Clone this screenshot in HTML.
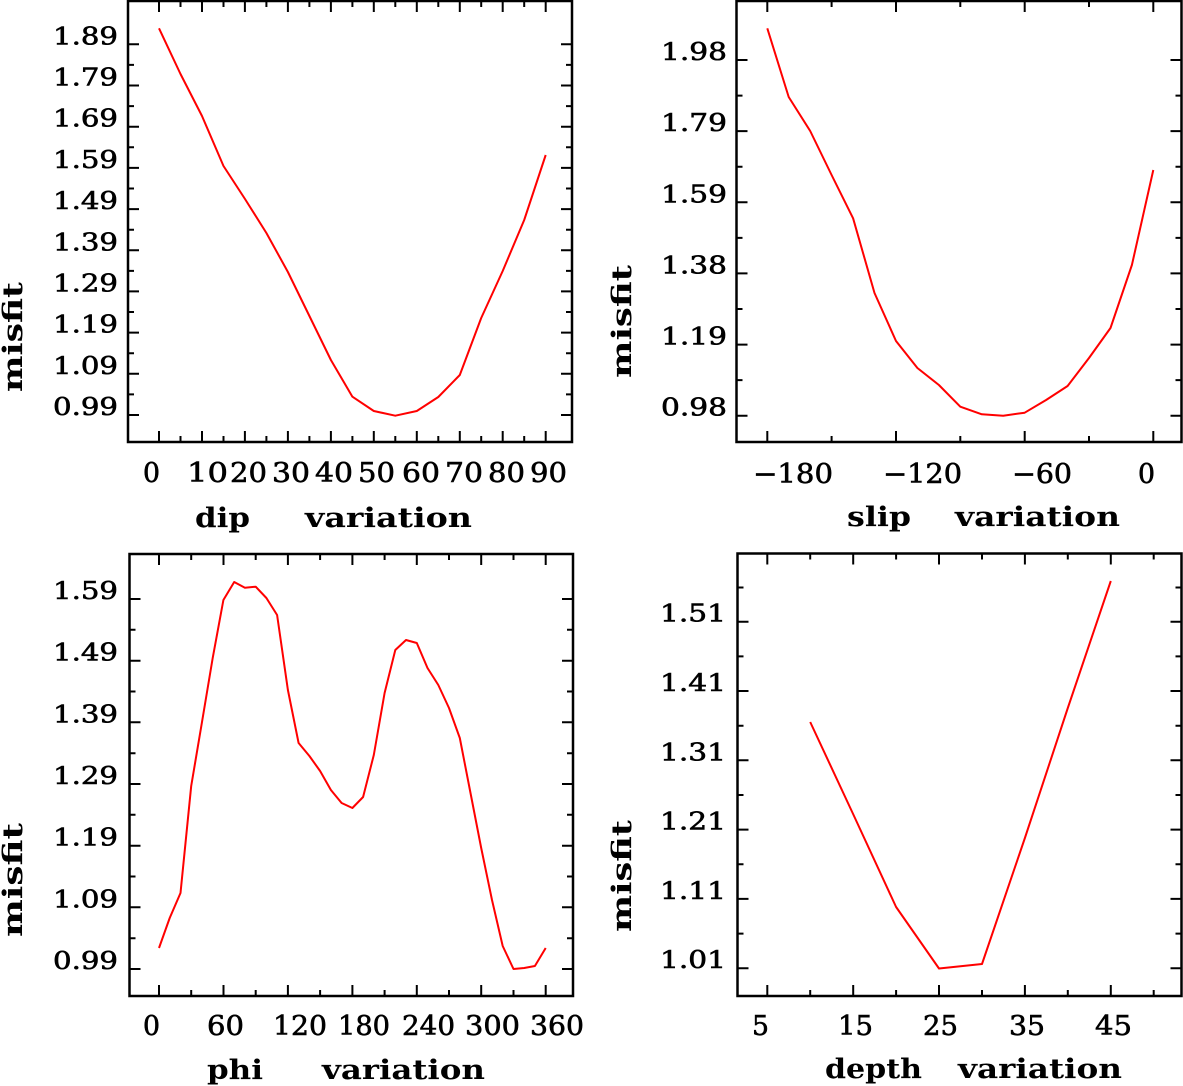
<!DOCTYPE html>
<html><head><meta charset="utf-8"><style>
html,body{margin:0;padding:0;background:#fff;}
svg{display:block;}
.t{font-family:"DejaVu Serif","Liberation Serif",serif;font-size:24px;fill:#000;stroke:#000;stroke-width:0.6px;}
.x{font-family:"DejaVu Serif","Liberation Serif",serif;font-size:27px;fill:#000;stroke:#000;stroke-width:0.6px;}
.b{font-family:"DejaVu Serif","Liberation Serif",serif;font-size:27px;font-weight:bold;fill:#000;}
</style></head><body>
<svg width="1183" height="1086" viewBox="0 0 1183 1086" xmlns="http://www.w3.org/2000/svg">
<rect x="0" y="0" width="1183" height="1086" fill="#fff"/>
<g fill="none" stroke="#000" stroke-width="2.5">
<rect x="128" y="1" width="444" height="441"/>
<rect x="736.5" y="1" width="445" height="441"/>
<rect x="129.5" y="554" width="443.5" height="442"/>
<rect x="737.5" y="553.5" width="444" height="442.5"/>
</g>
<g fill="none" stroke="#000" stroke-width="2">
<path d="M128 44.3h11M128 85.5h11M128 126.7h11M128 167.9h11M128 209.1h11M128 250.3h11M128 291.4h11M128 332.6h11M128 373.8h11M128 415h11
M128 64.9h6M128 106.1h6M128 147.3h6M128 188.5h6M128 229.7h6M128 270.9h6M128 312h6M128 353.2h6M128 394.4h6
M572 44.3h-11M572 85.5h-11M572 126.7h-11M572 167.9h-11M572 209.1h-11M572 250.3h-11M572 291.4h-11M572 332.6h-11M572 373.8h-11M572 415h-11
M572 64.9h-6M572 106.1h-6M572 147.3h-6M572 188.5h-6M572 229.7h-6M572 270.9h-6M572 312h-6M572 353.2h-6M572 394.4h-6
M159 442v-11M202 442v-11M244.9 442v-11M287.9 442v-11M330.9 442v-11M373.8 442v-11M416.8 442v-11M459.8 442v-11M502.7 442v-11M545.7 442v-11
M180.5 442v-6M223.5 442v-6M266.4 442v-6M309.4 442v-6M352.4 442v-6M395.3 442v-6M438.3 442v-6M481.2 442v-6M524.2 442v-6
M159 1v11M202 1v11M244.9 1v11M287.9 1v11M330.9 1v11M373.8 1v11M416.8 1v11M459.8 1v11M502.7 1v11M545.7 1v11
M180.5 1v6M223.5 1v6M266.4 1v6M309.4 1v6M352.4 1v6M395.3 1v6M438.3 1v6M481.2 1v6M524.2 1v6"/>
<path d="M736.5 60h11M736.5 131.1h11M736.5 202.3h11M736.5 273.4h11M736.5 344.6h11M736.5 415.7h11
M736.5 95.6h6M736.5 166.7h6M736.5 237.9h6M736.5 309h6M736.5 380.1h6
M1181.5 60h-11M1181.5 131.1h-11M1181.5 202.3h-11M1181.5 273.4h-11M1181.5 344.6h-11M1181.5 415.7h-11
M1181.5 95.6h-6M1181.5 166.7h-6M1181.5 237.9h-6M1181.5 309h-6M1181.5 380.1h-6
M767.3 442v-11M896 442v-11M1024.7 442v-11M1153.3 442v-11
M831.6 442v-6M960.3 442v-6M1089 442v-6
M767.3 1v11M896 1v11M1024.7 1v11M1153.3 1v11
M831.6 1v6M960.3 1v6M1089 1v6"/>
<path d="M129.5 599h11M129.5 660.7h11M129.5 722.3h11M129.5 784h11M129.5 845.7h11M129.5 907.3h11M129.5 969h11
M129.5 629.8h6M129.5 691.5h6M129.5 753.2h6M129.5 814.8h6M129.5 876.5h6M129.5 938.2h6
M573 599h-11M573 660.7h-11M573 722.3h-11M573 784h-11M573 845.7h-11M573 907.3h-11M573 969h-11
M573 629.8h-6M573 691.5h-6M573 753.2h-6M573 814.8h-6M573 876.5h-6M573 938.2h-6
M159 996v-11M223.5 996v-11M287.9 996v-11M352.4 996v-11M416.8 996v-11M481.2 996v-11M545.7 996v-11
M191.2 996v-6M255.7 996v-6M320.1 996v-6M384.6 996v-6M449 996v-6M513.5 996v-6
M159 554v11M223.5 554v11M287.9 554v11M352.4 554v11M416.8 554v11M481.2 554v11M545.7 554v11
M191.2 554v6M255.7 554v6M320.1 554v6M384.6 554v6M449 554v6M513.5 554v6"/>
<path d="M737.5 621.7h11M737.5 691h11M737.5 760.3h11M737.5 829.6h11M737.5 898.9h11M737.5 968.2h11
M737.5 587.5h6M737.5 656.4h6M737.5 725.7h6M737.5 795h6M737.5 864.3h6M737.5 933.6h6
M1181.5 621.7h-11M1181.5 691h-11M1181.5 760.3h-11M1181.5 829.6h-11M1181.5 898.9h-11M1181.5 968.2h-11
M1181.5 587.5h-6M1181.5 656.4h-6M1181.5 725.7h-6M1181.5 795h-6M1181.5 864.3h-6M1181.5 933.6h-6
M767.3 996v-11M853.2 996v-11M939 996v-11M1024.9 996v-11M1110.8 996v-11
M810.2 996v-6M896.1 996v-6M982 996v-6M1067.8 996v-6M1153.7 996v-6
M767.3 553.5v11M853.2 553.5v11M939 553.5v11M1024.9 553.5v11M1110.8 553.5v11
M810.2 553.5v6M896.1 553.5v6M982 553.5v6M1067.8 553.5v6M1153.7 553.5v6"/>
</g>
<g fill="none" stroke="#ff0000" stroke-width="2" stroke-linejoin="round">
<polyline points="159,28.3 180.5,74 202,116 223.5,166 245,199 266.4,233 287.9,272 309.4,316 330.9,360 352.4,396.7 373.8,411 395.3,415.7 416.8,411 438.3,397 459.8,375 481.2,318 502.7,271 524.2,220 545.7,155"/>
<polyline points="767.3,28.3 788.7,97 810.2,131 831.6,175 853.1,218.3 874.5,293 896,341 917.4,368 938.9,385 960.3,406.7 981.8,414.3 1003.2,415.7 1024.7,412.7 1046.1,400 1067.6,386 1089,358 1110.5,328 1131.9,265 1153.3,170"/>
<polyline points="159,948 169.7,918 180.5,893 191.2,786 202,722 212.7,658 223.4,600 234.2,582 244.9,587.7 255.7,586.7 266.4,598 277.1,615 287.9,690 298.6,743 309.4,756 320.1,771 330.9,790 341.6,803 352.4,808 363.1,797 373.8,755 384.6,693 395.3,650 406,640 416.8,643 427.5,668 438.3,685 449,708 459.8,738 470.5,793 481.2,848 492,900 502.7,946 513.5,969 524.2,968 534.9,966 545.7,948"/>
<polyline points="810.2,722 853.1,814 896.1,907 939,968.5 982,964 1024.9,838 1067.8,708 1110.8,581"/>
</g>
<g class="t">
<text x="53" y="44.3" textLength="65" lengthAdjust="spacingAndGlyphs">1.89</text>
<text x="53" y="85.5" textLength="65" lengthAdjust="spacingAndGlyphs">1.79</text>
<text x="53" y="126.7" textLength="65" lengthAdjust="spacingAndGlyphs">1.69</text>
<text x="53" y="167.9" textLength="65" lengthAdjust="spacingAndGlyphs">1.59</text>
<text x="53" y="209.1" textLength="65" lengthAdjust="spacingAndGlyphs">1.49</text>
<text x="53" y="250.3" textLength="65" lengthAdjust="spacingAndGlyphs">1.39</text>
<text x="53" y="291.4" textLength="65" lengthAdjust="spacingAndGlyphs">1.29</text>
<text x="53" y="332.6" textLength="65" lengthAdjust="spacingAndGlyphs">1.19</text>
<text x="53" y="373.8" textLength="65" lengthAdjust="spacingAndGlyphs">1.09</text>
<text x="53" y="415" textLength="65" lengthAdjust="spacingAndGlyphs">0.99</text>
<text x="661" y="60" textLength="66" lengthAdjust="spacingAndGlyphs">1.98</text>
<text x="661" y="131.1" textLength="66" lengthAdjust="spacingAndGlyphs">1.79</text>
<text x="661" y="202.3" textLength="66" lengthAdjust="spacingAndGlyphs">1.59</text>
<text x="661" y="273.4" textLength="66" lengthAdjust="spacingAndGlyphs">1.38</text>
<text x="661" y="344.6" textLength="66" lengthAdjust="spacingAndGlyphs">1.19</text>
<text x="661" y="415.7" textLength="66" lengthAdjust="spacingAndGlyphs">0.98</text>
<text x="53" y="599" textLength="65" lengthAdjust="spacingAndGlyphs">1.59</text>
<text x="53" y="660.7" textLength="65" lengthAdjust="spacingAndGlyphs">1.49</text>
<text x="53" y="722.3" textLength="65" lengthAdjust="spacingAndGlyphs">1.39</text>
<text x="53" y="784" textLength="65" lengthAdjust="spacingAndGlyphs">1.29</text>
<text x="53" y="845.7" textLength="65" lengthAdjust="spacingAndGlyphs">1.19</text>
<text x="53" y="907.3" textLength="65" lengthAdjust="spacingAndGlyphs">1.09</text>
<text x="53" y="969" textLength="65" lengthAdjust="spacingAndGlyphs">0.99</text>
<text x="660" y="621.7" textLength="66" lengthAdjust="spacingAndGlyphs">1.51</text>
<text x="660" y="691" textLength="66" lengthAdjust="spacingAndGlyphs">1.41</text>
<text x="660" y="760.3" textLength="66" lengthAdjust="spacingAndGlyphs">1.31</text>
<text x="660" y="829.6" textLength="66" lengthAdjust="spacingAndGlyphs">1.21</text>
<text x="660" y="898.9" textLength="66" lengthAdjust="spacingAndGlyphs">1.11</text>
<text x="660" y="968.2" textLength="66" lengthAdjust="spacingAndGlyphs">1.01</text>
</g>
<g class="x">
<text x="143" y="482" textLength="17" lengthAdjust="spacingAndGlyphs">0</text>
<text x="187" y="482" textLength="41" lengthAdjust="spacingAndGlyphs">10</text>
<text x="230" y="482" textLength="37" lengthAdjust="spacingAndGlyphs">20</text>
<text x="272" y="482" textLength="38" lengthAdjust="spacingAndGlyphs">30</text>
<text x="315" y="482" textLength="38" lengthAdjust="spacingAndGlyphs">40</text>
<text x="358" y="482" textLength="37" lengthAdjust="spacingAndGlyphs">50</text>
<text x="402" y="482" textLength="38" lengthAdjust="spacingAndGlyphs">60</text>
<text x="445" y="482" textLength="38" lengthAdjust="spacingAndGlyphs">70</text>
<text x="488" y="482" textLength="37" lengthAdjust="spacingAndGlyphs">80</text>
<text x="530" y="482" textLength="37" lengthAdjust="spacingAndGlyphs">90</text>
<text x="753" y="483" textLength="80" lengthAdjust="spacingAndGlyphs">−180</text>
<text x="883" y="483" textLength="79" lengthAdjust="spacingAndGlyphs">−120</text>
<text x="1012" y="483" textLength="60" lengthAdjust="spacingAndGlyphs">−60</text>
<text x="1138" y="483" textLength="17" lengthAdjust="spacingAndGlyphs">0</text>
<text x="143" y="1035" textLength="17" lengthAdjust="spacingAndGlyphs">0</text>
<text x="207" y="1035" textLength="37" lengthAdjust="spacingAndGlyphs">60</text>
<text x="273" y="1035" textLength="54" lengthAdjust="spacingAndGlyphs">120</text>
<text x="338" y="1035" textLength="52" lengthAdjust="spacingAndGlyphs">180</text>
<text x="402" y="1035" textLength="53" lengthAdjust="spacingAndGlyphs">240</text>
<text x="465" y="1035" textLength="55" lengthAdjust="spacingAndGlyphs">300</text>
<text x="530" y="1035" textLength="54" lengthAdjust="spacingAndGlyphs">360</text>
<text x="752" y="1035" textLength="17" lengthAdjust="spacingAndGlyphs">5</text>
<text x="838" y="1035" textLength="35" lengthAdjust="spacingAndGlyphs">15</text>
<text x="923" y="1035" textLength="35" lengthAdjust="spacingAndGlyphs">25</text>
<text x="1009" y="1035" textLength="36" lengthAdjust="spacingAndGlyphs">35</text>
<text x="1095" y="1035" textLength="37" lengthAdjust="spacingAndGlyphs">45</text>
</g>
<g class="b">
<text x="195" y="527" textLength="55" lengthAdjust="spacingAndGlyphs">dip</text>
<text x="305" y="527" textLength="167" lengthAdjust="spacingAndGlyphs">variation</text>
<text x="847" y="526" textLength="64" lengthAdjust="spacingAndGlyphs">slip</text>
<text x="955" y="526" textLength="165" lengthAdjust="spacingAndGlyphs">variation</text>
<text x="207" y="1079" textLength="56" lengthAdjust="spacingAndGlyphs">phi</text>
<text x="322" y="1079" textLength="163" lengthAdjust="spacingAndGlyphs">variation</text>
<text x="825" y="1078" textLength="97" lengthAdjust="spacingAndGlyphs">depth</text>
<text x="958" y="1078" textLength="164" lengthAdjust="spacingAndGlyphs">variation</text>
<text transform="translate(22,392) rotate(-90)" x="0" y="0" textLength="110" lengthAdjust="spacingAndGlyphs">misfit</text>
<text transform="translate(631,378) rotate(-90)" x="0" y="0" textLength="113" lengthAdjust="spacingAndGlyphs">misfit</text>
<text transform="translate(22,937) rotate(-90)" x="0" y="0" textLength="114" lengthAdjust="spacingAndGlyphs">misfit</text>
<text transform="translate(631,932) rotate(-90)" x="0" y="0" textLength="112" lengthAdjust="spacingAndGlyphs">misfit</text>
</g>
</svg>
</body></html>
